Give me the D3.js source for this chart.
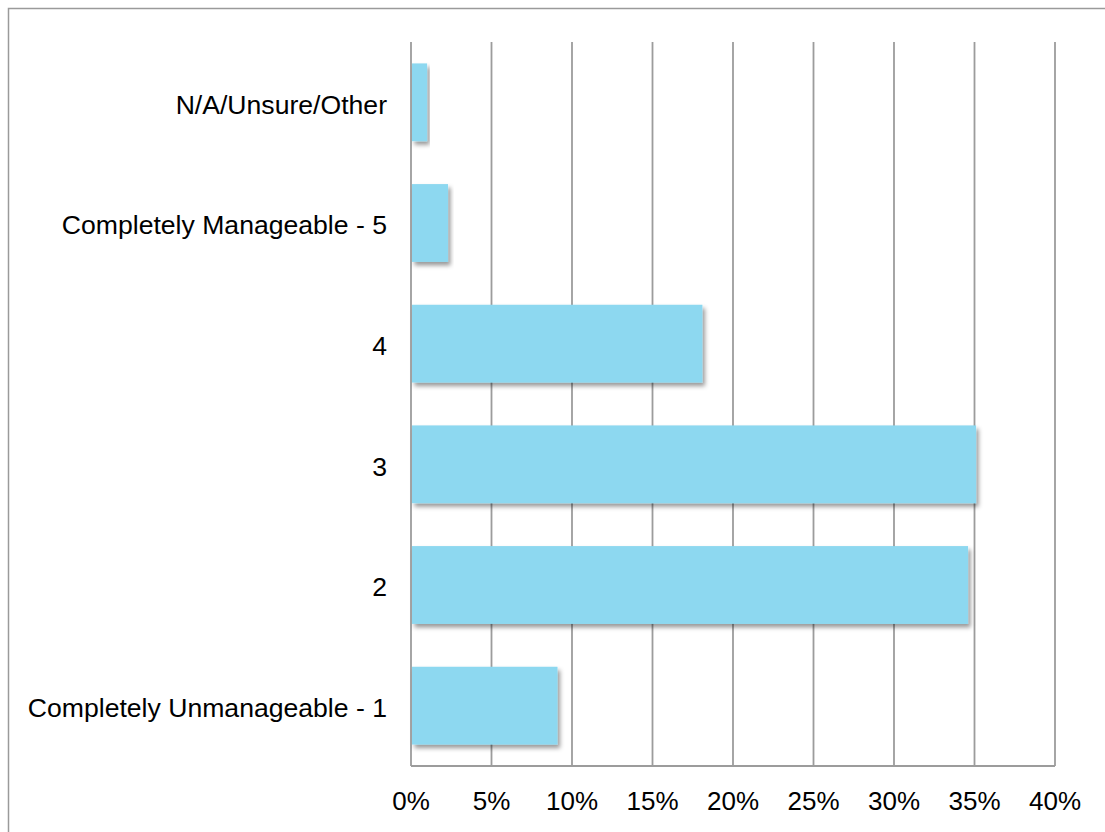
<!DOCTYPE html>
<html>
<head>
<meta charset="utf-8">
<script src="https://cdn.jsdelivr.net/npm/d3@7"></script>
<style>
  html, body { margin: 0; padding: 0; background: #fff; }
  svg { display: block; }
  text { font-family: "Liberation Sans", Arial, Helvetica, sans-serif; fill: #000; }
</style>
</head>
<body>
<svg id="chart" width="1105" height="832"></svg>
<script>
const categories = [
  "N/A/Unsure/Other",
  "Completely Manageable - 5",
  "4",
  "3",
  "2",
  "Completely Unmanageable - 1"
];
const values = [1.0, 2.3, 18.1, 35.1, 34.6, 9.1];
const tickValues = [0, 5, 10, 15, 20, 25, 30, 35, 40];
const tickLabels = ["0%", "5%", "10%", "15%", "20%", "25%", "30%", "35%", "40%"];

const svg = d3.select("#chart");
const W = 1105, H = 832;
const plot = { left: 411, right: 1055, top: 42, bottom: 766 };

// outer frame
svg.append("rect")
  .attr("x", 8.5).attr("y", 8.5)
  .attr("width", W + 10).attr("height", H + 10)
  .attr("fill", "#fff")
  .attr("stroke", "#9a9a9a")
  .attr("stroke-width", 1.5);

const defs = svg.append("defs");
const f = defs.append("filter").attr("id", "shadow")
  .attr("x", "-5%").attr("y", "-10%").attr("width", "120%").attr("height", "130%");
f.append("feDropShadow")
  .attr("dx", 2.5).attr("dy", 3.5)
  .attr("stdDeviation", 2.2)
  .attr("flood-color", "#000")
  .attr("flood-opacity", 0.4);

const x = d3.scaleLinear().domain([0, 40]).range([plot.left, plot.right]);
const y = d3.scaleBand().domain(categories).range([plot.top, plot.bottom]).paddingInner(0.355).paddingOuter(0.1775);

// gridlines
svg.append("g").selectAll("line")
  .data(tickValues)
  .join("line")
  .attr("x1", d => x(d)).attr("x2", d => x(d))
  .attr("y1", plot.top).attr("y2", plot.bottom)
  .attr("stroke", "#9c9c9c")
  .attr("stroke-width", 1.8);

// bottom axis line
svg.append("line")
  .attr("x1", plot.left).attr("x2", plot.right)
  .attr("y1", plot.bottom).attr("y2", plot.bottom)
  .attr("stroke", "#9c9c9c")
  .attr("stroke-width", 1.8);

// bars
svg.append("g").selectAll("rect")
  .data(categories.map((c, i) => ({ c, v: values[i] })))
  .join("rect")
  .attr("x", x(0) + 1)
  .attr("y", d => y(d.c))
  .attr("width", d => x(d.v) - x(0) - 1)
  .attr("height", y.bandwidth())
  .attr("fill", "#8dd8f0")
  .attr("filter", "url(#shadow)");

// category labels
svg.append("g").selectAll("text")
  .data(categories)
  .join("text")
  .attr("x", plot.left - 24)
  .attr("y", d => y(d) + y.bandwidth() / 2)
  .attr("dy", "0.42em")
  .attr("text-anchor", "end")
  .attr("font-size", 26.6)
  .text(d => d);

// tick labels
svg.append("g").selectAll("text")
  .data(tickValues)
  .join("text")
  .attr("x", d => x(d))
  .attr("y", 810)
  .attr("text-anchor", "middle")
  .attr("font-size", 26)
  .text((d, i) => tickLabels[i]);
</script>
</body>
</html>
